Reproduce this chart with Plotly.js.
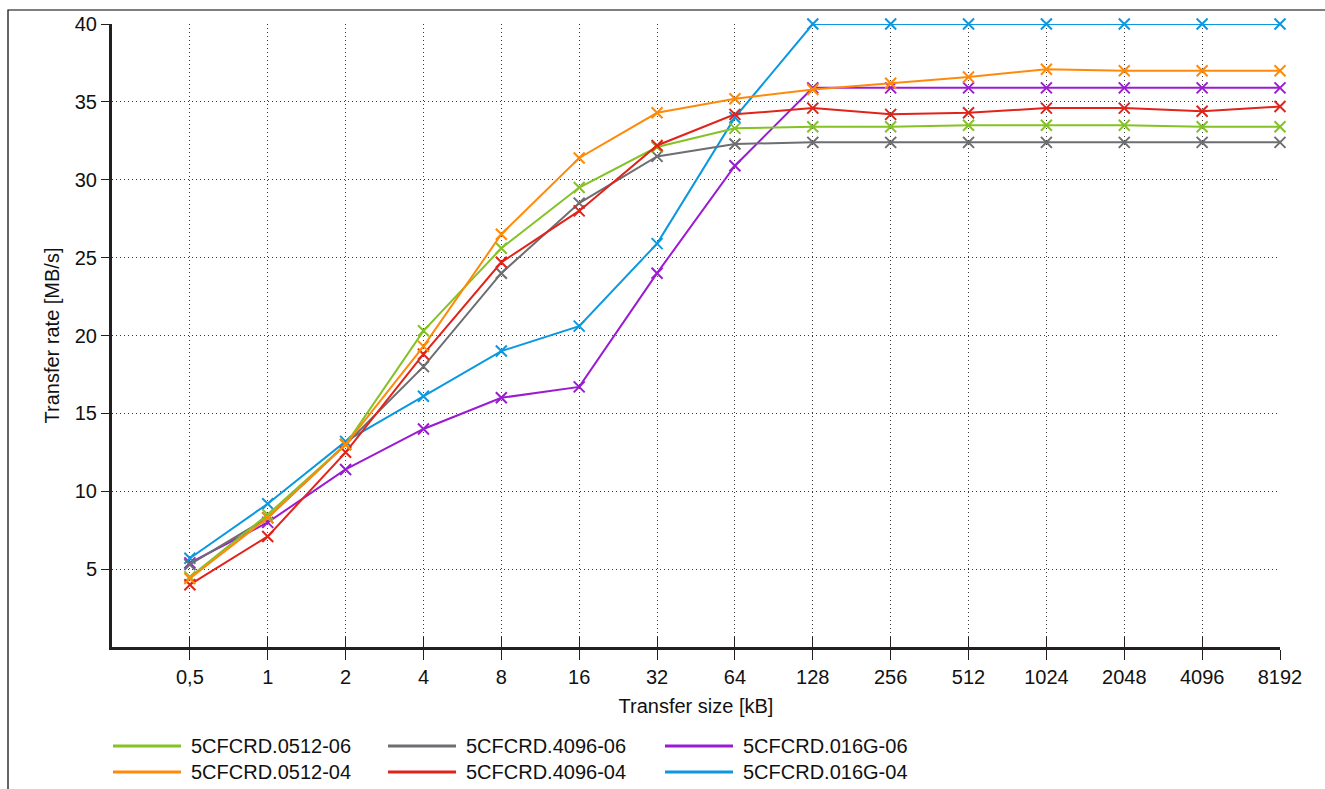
<!DOCTYPE html>
<html><head><meta charset="utf-8">
<script src="https://cdn.plot.ly/plotly-3.0.1.min.js"></script>
<style>html,body{margin:0;padding:0;background:#fff}#chart{width:1325px;height:789px}</style>
</head><body><div id="chart"></div>
<script>
const sizes = ["0,5","1","2","4","8","16","32","64","128","256","512","1024","2048","4096","8192"];
const seriesNames = ["5CFCRD.0512-06","5CFCRD.0512-04","5CFCRD.4096-06","5CFCRD.4096-04","5CFCRD.016G-06","5CFCRD.016G-04"];
const seriesColors = ["#84c225","#ff8a0a","#6d6e71","#e2231a","#9b1bd3","#0b98e0"];
const rate_0512_06 = [4.5, 8.5, 13.0, 20.3, 25.6, 29.5, 32.1, 33.3, 33.4, 33.4, 33.5, 33.5, 33.5, 33.4, 33.4];
const rate_0512_04 = [4.4, 8.3, 13.0, 19.3, 26.5, 31.4, 34.3, 35.2, 35.8, 36.2, 36.6, 37.1, 37.0, 37.0, 37.0];
const rate_4096_06 = [5.3, 8.3, 13.0, 18.0, 24.0, 28.5, 31.5, 32.3, 32.4, 32.4, 32.4, 32.4, 32.4, 32.4, 32.4];
const rate_4096_04 = [4.0, 7.1, 12.5, 18.8, 24.7, 28.0, 32.2, 34.2, 34.6, 34.2, 34.3, 34.6, 34.6, 34.4, 34.7];
const rate_016G_06 = [5.4, 8.0, 11.4, 14.0, 16.0, 16.7, 24.0, 30.9, 35.9, 35.9, 35.9, 35.9, 35.9, 35.9, 35.9];
const rate_016G_04 = [5.7, 9.2, 13.2, 16.1, 19.0, 20.6, 25.9, 34.0, 40.0, 40.0, 40.0, 40.0, 40.0, 40.0, 40.0];
const seriesValues = [rate_0512_06, rate_0512_04, rate_4096_06, rate_4096_04, rate_016G_06, rate_016G_04];
const yTicks = [5,10,15,20,25,30,35,40];

const W = 1325, H = 789;
const M = {l:112, r:45, t:24, b:142};
const pw = W - M.l - M.r, ph = H - M.t - M.b;
const px = x => (x - M.l) / pw;
const py = y => (H - M.b - y) / ph;

const font = "Liberation Sans, Arial, sans-serif";
const axisColor = "#231f20";
const FS = 20;

const traces = seriesNames.map((n,i) => ({
  type: "scatter", mode: "lines+markers", name: n,
  x: sizes, y: seriesValues[i],
  line: {color: seriesColors[i], width: 2},
  marker: {symbol: "x-thin-open", size: 11, color: seriesColors[i], line: {color: seriesColors[i], width: 2}},
  cliponaxis: false, showlegend: false
}));
const order = [4,5,2,0,3,1];
const data = order.map(i => traces[i]);

// custom legend (3 columns x 2 rows)
const legCols = [[0,1],[2,3],[4,5]];
const colLineX = [113, 388, 665];
const rowY = [746, 772];
const shapes = [];
const annotations = [];
legCols.forEach((col,c) => col.forEach((si,r) => {
  shapes.push({type:"line", xref:"paper", yref:"paper",
    x0: px(colLineX[c]), x1: px(colLineX[c]+68), y0: py(rowY[r]), y1: py(rowY[r]),
    line:{color: seriesColors[si], width: 3}});
  annotations.push({xref:"paper", yref:"paper", x: px(colLineX[c]+76), y: py(rowY[r]),
    xanchor:"left", yanchor:"middle", showarrow:false, text: seriesNames[si],
    font:{family: font, size: FS, color:"#111"}});
}));
// outer frame (top and left edges)
shapes.push({type:"path", xref:"paper", yref:"paper",
  path: `M ${px(8)} ${py(H+20)} L ${px(8)} ${py(10)} L ${px(W+20)} ${py(10)}`,
  line:{color:"#000", width:1.2}});

const grid = {gridcolor: "#3a3a3a", griddash: "1px,3px", gridwidth: 1};
const layout = {
  width: W, height: H,
  margin: M,
  paper_bgcolor: "#fff", plot_bgcolor: "#fff",
  font: {family: font, size: FS, color: "#111"},
  showlegend: false,
  xaxis: Object.assign({
    type: "category", range: [-1, 14], categoryorder: "array", categoryarray: sizes,
    showline: true, linecolor: axisColor, linewidth: 3,
    ticks: "outside", ticklen: 10, tickwidth: 1, tickcolor: axisColor,
    showgrid: true, zeroline: false, fixedrange: true,
    tickfont: {family: font, size: FS, color: "#111"},
    title: {text: "Transfer size [kB]", standoff: 12, font: {family: font, size: FS, color: "#111"}}
  }, grid),
  xaxis2: {
    type: "category", range: [-1, 14], categoryorder: "array", categoryarray: sizes,
    overlaying: "x", anchor: "y", side: "bottom", matches: "x",
    showline: false, ticks: "inside", ticklen: 10, tickwidth: 1, tickcolor: axisColor,
    showticklabels: false, showgrid: false, zeroline: false
  },
  yaxis: Object.assign({
    range: [0, 40], tickvals: yTicks,
    showline: true, linecolor: axisColor, linewidth: 3,
    ticks: "outside", ticklen: 8, tickwidth: 1, tickcolor: axisColor,
    showgrid: true, zeroline: false, fixedrange: true,
    tickfont: {family: font, size: FS, color: "#111"},
    title: {text: "Transfer rate [MB/s]", standoff: 10, font: {family: font, size: FS, color: "#111"}}
  }, grid),
  shapes: shapes,
  annotations: annotations
};
data.push({type:"scatter", x: sizes, y: sizes.map(()=>null), xaxis:"x2", yaxis:"y", mode:"lines", showlegend:false, hoverinfo:"skip"});
Plotly.newPlot("chart", data, layout, {staticPlot: true});
</script></body></html>
